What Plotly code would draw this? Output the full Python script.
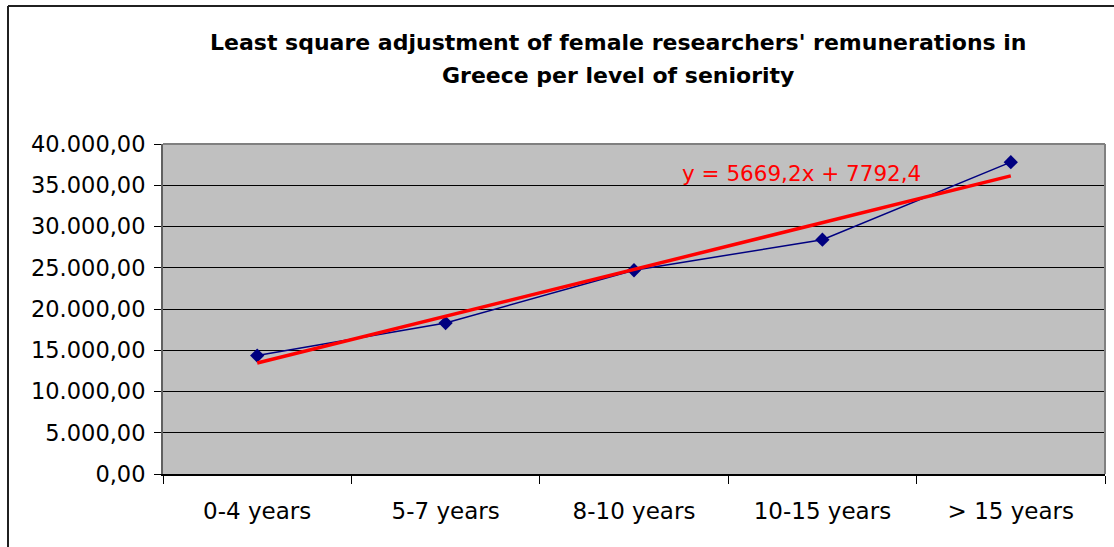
import plotly.graph_objects as go

# data
categories = ["0-4 years", "5-7 years", "8-10 years", "10-15 years", "> 15 years"]
remuneration = [14350, 18300, 24700, 28400, 37800]
trend_slope = 5669.2
trend_intercept = 7792.4
title_lines = ["Least square adjustment of female researchers' remunerations in",
               "Greece per level of seniority"]
trend_label = "y = 5669,2x + 7792,4"

trend = [trend_slope * (i + 1) + trend_intercept for i in range(len(categories))]

FONT = "DejaVu Sans, Arial, sans-serif"
W, H = 1114, 547
L, R, T, B = 163, 9, 144, 73
pw, ph = W - L - R, H - T - B


def px_to_paper(xp, yp):
    return (xp - L) / pw, (H - B - yp) / ph


fig = go.Figure()

fig.add_trace(go.Scatter(x=categories, y=remuneration, mode="lines+markers",
                         line={"color": "#000080", "width": 1.5},
                         marker={"symbol": "diamond", "size": 11, "color": "#000080"},
                         hoverinfo="skip", showlegend=False))
fig.add_trace(go.Scatter(x=categories, y=trend, mode="lines",
                         line={"color": "#FF0000", "width": 3.5},
                         hoverinfo="skip", showlegend=False))

fig.update_layout(
    width=W, height=H,
    margin={"l": L, "r": R, "t": T, "b": B, "autoexpand": False},
    paper_bgcolor="white", plot_bgcolor="#C0C0C0",
    separators=",.",
    font={"family": FONT, "size": 22, "color": "black"},
    showlegend=False,
)

fig.update_xaxes(type="category", range=[-0.5, 4.5], tickson="boundaries",
                 ticks="outside", ticklen=8, tickcolor="black", tickwidth=1,
                 showgrid=False, showline=True, linecolor="black", linewidth=1.5,
                 ticklabelstandoff=16, tickfont={"size": 23})
fig.update_yaxes(range=[0, 40000], dtick=5000, tickformat=",.2f",
                 ticks="outside", ticklen=7, tickcolor="black", tickwidth=1,
                 showgrid=True, gridcolor="black", gridwidth=1,
                 zeroline=False, showline=True, linecolor="#606060", linewidth=2,
                 ticklabelstandoff=4, tickfont={"size": 22.5})

# title (two lines, bold)
for txt, yp in zip(title_lines, [43, 75]):
    xx, yy = px_to_paper(618, yp)
    fig.add_annotation(text="<b>" + txt + "</b>", xref="paper", yref="paper",
                       x=xx, y=yy, showarrow=False, xanchor="center", yanchor="middle",
                       font={"size": 22, "color": "black", "family": FONT})

# trend equation label
xx, yy = px_to_paper(801, 173)
fig.add_annotation(text=trend_label, xref="paper", yref="paper", x=xx, y=yy,
                   showarrow=False, xanchor="center", yanchor="middle",
                   font={"size": 21.5, "color": "#FF0000", "family": FONT})

# plot area top / right border
fig.add_shape(type="line", xref="paper", yref="paper", x0=0, x1=1, y0=1, y1=1,
              line={"color": "#808080", "width": 2}, layer="above")
fig.add_shape(type="line", xref="paper", yref="paper", x0=1, x1=1, y0=0, y1=1,
              line={"color": "#808080", "width": 2}, layer="above")

# chart area outer frame
x0, y0 = px_to_paper(8, 6)
x1, y1 = px_to_paper(1120, 560)
fig.add_shape(type="line", xref="paper", yref="paper", x0=x0, x1=x1, y0=y0, y1=y0,
              line={"color": "#202020", "width": 2})
fig.add_shape(type="line", xref="paper", yref="paper", x0=x0, x1=x0, y0=y0, y1=y1,
              line={"color": "#202020", "width": 2})

# drop the default page margin so the figure sits at the window's top-left
fig.write_html("out.html", config={"displayModeBar": False},
               post_script="document.body.style.margin='0';")
